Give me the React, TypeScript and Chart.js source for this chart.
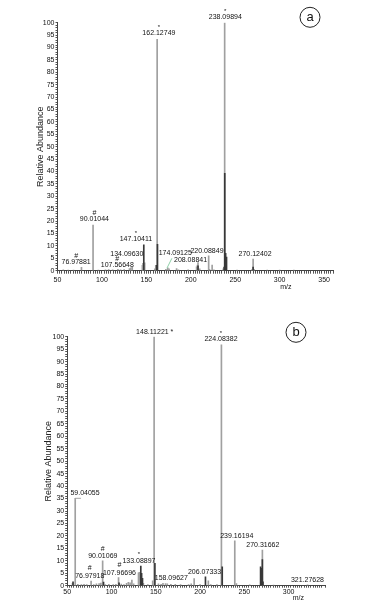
import React, { useEffect, useRef } from "react";
import { Chart, registerables } from "chart.js";

Chart.register(...registerables);

const FONT = "'Liberation Sans', Arial, Helvetica, sans-serif";

// ---------- Panel (a) ----------
const A_GRAY_MZ = [56.5, 62, 68, 76.98, 90.01, 96, 104, 107.57, 112, 118, 121, 125, 131, 132.5, 134.1, 145.5, 146.2, 148.1, 159.5, 160.6, 162.13, 172, 174.09, 175.5, 184, 186, 197, 206.5, 207.5, 208.09, 210, 220.09, 221, 224, 226, 236.5, 238.1, 252, 268.8, 270.12, 271.2, 286, 300, 316];
const A_GRAY_INT = [0.4, 0.3, 0.3, 1.4, 18.4, 0.3, 0.4, 0.5, 0.4, 0.6, 0.4, 0.5, 0.9, 1.2, 1.4, 2.2, 3.0, 3.2, 0.8, 2.2, 93.3, 0.6, 1.2, 0.8, 0.9, 0.4, 0.4, 1.6, 2.3, 3.3, 0.8, 6.0, 0.6, 2.3, 0.4, 0.8, 100, 0.3, 0.5, 4.7, 0.6, 0.3, 0.2, 0.2];
const A_DARK_MZ = [147.1, 161.6, 162.5, 208.1, 237.5, 238.2, 239.2, 240.2, 270.1];
const A_DARK_INT = [10.4, 2.2, 10.6, 2.0, 1.5, 39.3, 7.0, 5.5, 1.5];
const A_LABEL_TEXT = ["238.09894", "162.12749", "90.01044", "147.10411", "134.09630", "76.97881", "107.56648", "174.09125", "208.08841", "220.08849", "270.12402"];
const A_LABEL_MZ = [238.8, 164.1, 91.5, 138.3, 128, 71, 117.3, 182.5, 199.7, 218.2, 272.3];
const A_LABEL_INT = [101, 94.5, 19.5, 11.5, 5.2, 2.0, 0.8, 5.5, 2.7, 6.6, 5.4];
const A_LABEL_MARK = ["*", "*", "#", "*", "", "#", "#", "", "", "", ""];
const A_X_RANGE = [50, 360];

// ---------- Panel (b) ----------
const B_GRAY_MZ = [56, 59.04, 62, 66, 69, 72, 76.98, 80, 83, 86, 88, 90.01, 93, 97, 102, 105, 107.97, 111, 114, 117, 119, 121, 123, 125, 130.5, 131.5, 136, 141, 146.5, 148.11, 153, 156, 158.1, 161, 163, 167, 172, 178, 187, 190, 193.3, 200, 209.3, 212, 219, 224.08, 239.16, 241, 256, 270.32, 283, 321.28];
const B_GRAY_INT = [1.0, 35.1, 0.6, 0.4, 0.6, 0.5, 1.9, 0.5, 0.8, 0.9, 1.1, 10.0, 0.5, 0.6, 0.4, 0.6, 3.3, 0.7, 0.5, 1.0, 1.4, 1.2, 2.3, 0.8, 5.2, 5.4, 1.0, 0.5, 2.0, 100, 0.8, 0.6, 1.0, 0.9, 0.8, 0.6, 0.6, 0.4, 0.5, 0.8, 2.9, 0.5, 2.0, 0.4, 0.4, 96.7, 18.0, 0.9, 0.3, 14.3, 0.2, 0.3];
const B_DARK_MZ = [56.6, 91, 108.5, 133.09, 134, 135, 149, 206.07, 225, 268.3, 269, 270.3, 271];
const B_DARK_INT = [1.6, 1.5, 1.2, 7.9, 5.0, 3.0, 9.0, 3.6, 7.6, 7.6, 7.0, 10.5, 1.6];
const B_LABEL_TEXT = ["148.11221 *", "224.08382", "59.04055", "90.01069", "76.97918", "107.96696", "133.08897", "158.09627", "206.07333", "239.16194", "270.31662", "321.27628"];
const B_LABEL_MZ = [148.8, 223.6, 70.1, 90.2, 75.5, 109, 131, 167.5, 205, 241.4, 270.8, 321.2];
const B_LABEL_INT = [100.6, 97.5, 35.9, 10.4, 2.6, 3.8, 8.4, 1.8, 4.0, 18.5, 14.9, 0.8];
const B_LABEL_MARK = ["", "*", "", "#", "#", "#", "*", "", "", "", "", ""];
const B_X_RANGE = [50, 341];

type Leader = { x1: number; y1: number; x2: number; y2: number; color: string };

type PanelCfg = {
  letter: string;
  grayMz: number[]; grayInt: number[];
  darkMz: number[]; darkInt: number[];
  labelText: string[]; labelMz: number[]; labelInt: number[]; labelMark: string[];
  xRange: number[];
  leaders: Leader[];
  canvasH: number; top: number;
  padTop: number; padRight: number; yWidth: number; xHeight: number; yTitlePad: number;
  xTickLen: number; xTickPad: number;
  markGap: number;
  mzAt: number; mzDy: number;
  circleDx: number; circleDy: number;
};

const PANEL_A: PanelCfg = {
  letter: "a",
  grayMz: A_GRAY_MZ, grayInt: A_GRAY_INT, darkMz: A_DARK_MZ, darkInt: A_DARK_INT,
  labelText: A_LABEL_TEXT, labelMz: A_LABEL_MZ, labelInt: A_LABEL_INT, labelMark: A_LABEL_MARK,
  xRange: A_X_RANGE,
  leaders: [{ x1: 173.1, y1: 1.0, x2: 178.7, y2: 5.0, color: "#8fd0a8" }],
  canvasH: 300, top: 0,
  padTop: 22.7, padRight: 38, yWidth: 57.5, xHeight: 29.3, yTitlePad: 35,
  xTickLen: 3, xTickPad: 2,
  markGap: 6,
  mzAt: 307, mzDy: 16.3,
  circleDx: -23, circleDy: -5.4,
};

const PANEL_B: PanelCfg = {
  letter: "b",
  grayMz: B_GRAY_MZ, grayInt: B_GRAY_INT, darkMz: B_DARK_MZ, darkInt: B_DARK_INT,
  labelText: B_LABEL_TEXT, labelMz: B_LABEL_MZ, labelInt: B_LABEL_INT, labelMark: B_LABEL_MARK,
  xRange: B_X_RANGE,
  leaders: [{ x1: 59.04, y1: 35.1, x2: 65.5, y2: 35.1, color: "#a3a3a3" }],
  canvasH: 310, top: 300,
  padTop: 36.7, padRight: 46, yWidth: 67.2, xHeight: 24.3, yTitlePad: 43.6,
  xTickLen: 2, xTickPad: 0,
  markGap: 7.5,
  mzAt: 311, mzDy: 12.3,
  circleDx: -29, circleDy: -4.4,
};

function makeAnnotPlugin(cfg: PanelCfg) {
  return {
    id: "annot" + cfg.letter,
    afterDraw(chart: any) {
      const { ctx, chartArea } = chart;
      const xs = chart.scales.x;
      const ys = chart.scales.y;
      ctx.save();
      for (const l of cfg.leaders) {
        ctx.strokeStyle = l.color;
        ctx.lineWidth = 1;
        ctx.beginPath();
        ctx.moveTo(xs.getPixelForValue(l.x1), ys.getPixelForValue(l.y1));
        ctx.lineTo(xs.getPixelForValue(l.x2), ys.getPixelForValue(l.y2));
        ctx.stroke();
      }
      ctx.fillStyle = "#111";
      ctx.textAlign = "center";
      for (let i = 0; i < cfg.labelText.length; i++) {
        const x = xs.getPixelForValue(cfg.labelMz[i]);
        const y = ys.getPixelForValue(cfg.labelInt[i]);
        ctx.font = `7px ${FONT}`;
        ctx.textBaseline = "bottom";
        ctx.fillText(cfg.labelText[i], x, y);
        const m = cfg.labelMark[i];
        if (m) {
          ctx.textBaseline = "middle";
          ctx.font = m === "*" ? `6px ${FONT}` : `7px ${FONT}`;
          ctx.fillText(m, x, y - 3.5 - cfg.markGap + (m === "*" ? 1 : 0));
        }
      }
      ctx.font = `7px ${FONT}`;
      ctx.textBaseline = "middle";
      ctx.fillText("m/z", xs.getPixelForValue(cfg.mzAt), chartArea.bottom + cfg.mzDy);
      const cx = chartArea.right + cfg.circleDx;
      const cy = chartArea.top + cfg.circleDy;
      ctx.strokeStyle = "#222";
      ctx.lineWidth = 1;
      ctx.beginPath();
      ctx.arc(cx, cy, 10, 0, Math.PI * 2);
      ctx.stroke();
      ctx.font = `13px ${FONT}`;
      ctx.fillText(cfg.letter, cx, cy);
      ctx.restore();
    },
  };
}

function Spectrum({ cfg }: { cfg: PanelCfg }) {
  const ref = useRef<HTMLCanvasElement>(null);
  useEffect(() => {
    const canvas = ref.current;
    if (!canvas) return;
    const chart = new Chart(canvas, {
      type: "bar",
      data: {
        datasets: [
          {
            data: cfg.grayMz.map((x, i) => ({ x, y: cfg.grayInt[i] })),
            backgroundColor: "#a0a0a0",
            barThickness: 1,
            grouped: false,
            order: 2,
          } as any,
          {
            data: cfg.darkMz.map((x, i) => ({ x, y: cfg.darkInt[i] })),
            backgroundColor: "#383838",
            barThickness: 1,
            grouped: false,
            order: 1,
          } as any,
        ],
      },
      options: {
        responsive: false,
        animation: false,
        devicePixelRatio: 1,
        layout: { padding: { left: 0, top: cfg.padTop, right: cfg.padRight, bottom: 0 } },
        plugins: { legend: { display: false }, tooltip: { enabled: false } },
        scales: {
          x: {
            type: "linear",
            min: cfg.xRange[0],
            max: cfg.xRange[1],
            offset: false,
            grid: { display: true, drawOnChartArea: false, offset: false, tickLength: cfg.xTickLen, tickColor: "#555", tickWidth: 1 },
            border: { color: "#444", width: 1 },
            ticks: {
              stepSize: 2.5,
              autoSkip: false,
              maxRotation: 0,
              minRotation: 0,
              padding: cfg.xTickPad,
              color: "#111",
              font: { size: 7, family: FONT },
              callback: (v: any) => (Number(v) % 50 === 0 ? String(v) : ""),
            },
            afterFit: (s: any) => { s.height = cfg.xHeight; },
          },
          y: {
            min: 0,
            max: 100,
            grid: { display: true, drawOnChartArea: false, tickLength: 2, tickColor: "#555", tickWidth: 1 },
            border: { color: "#444", width: 1 },
            ticks: {
              stepSize: 1,
              autoSkip: false,
              padding: 1,
              color: "#111",
              font: { size: 7, family: FONT },
              callback: (v: any) => (Number(v) % 5 === 0 ? String(v) : ""),
            },
            title: {
              display: true,
              text: "Relative Abundance",
              color: "#222",
              font: { size: 9, family: FONT },
              padding: { top: cfg.yTitlePad, bottom: 0 },
            },
            afterFit: (s: any) => { s.width = cfg.yWidth; },
          },
        },
      } as any,
      plugins: [makeAnnotPlugin(cfg)],
    });
    return () => chart.destroy();
  }, [cfg]);
  return (
    <canvas
      ref={ref}
      width={371}
      height={cfg.canvasH}
      style={{ position: "absolute", left: 0, top: cfg.top, width: 371, height: cfg.canvasH }}
    />
  );
}

export default function App() {
  return (
    <div style={{ position: "absolute", left: 0, top: 0, width: 371, height: 610, background: "#fff" }}>
      <Spectrum cfg={PANEL_A} />
      <Spectrum cfg={PANEL_B} />
    </div>
  );
}
